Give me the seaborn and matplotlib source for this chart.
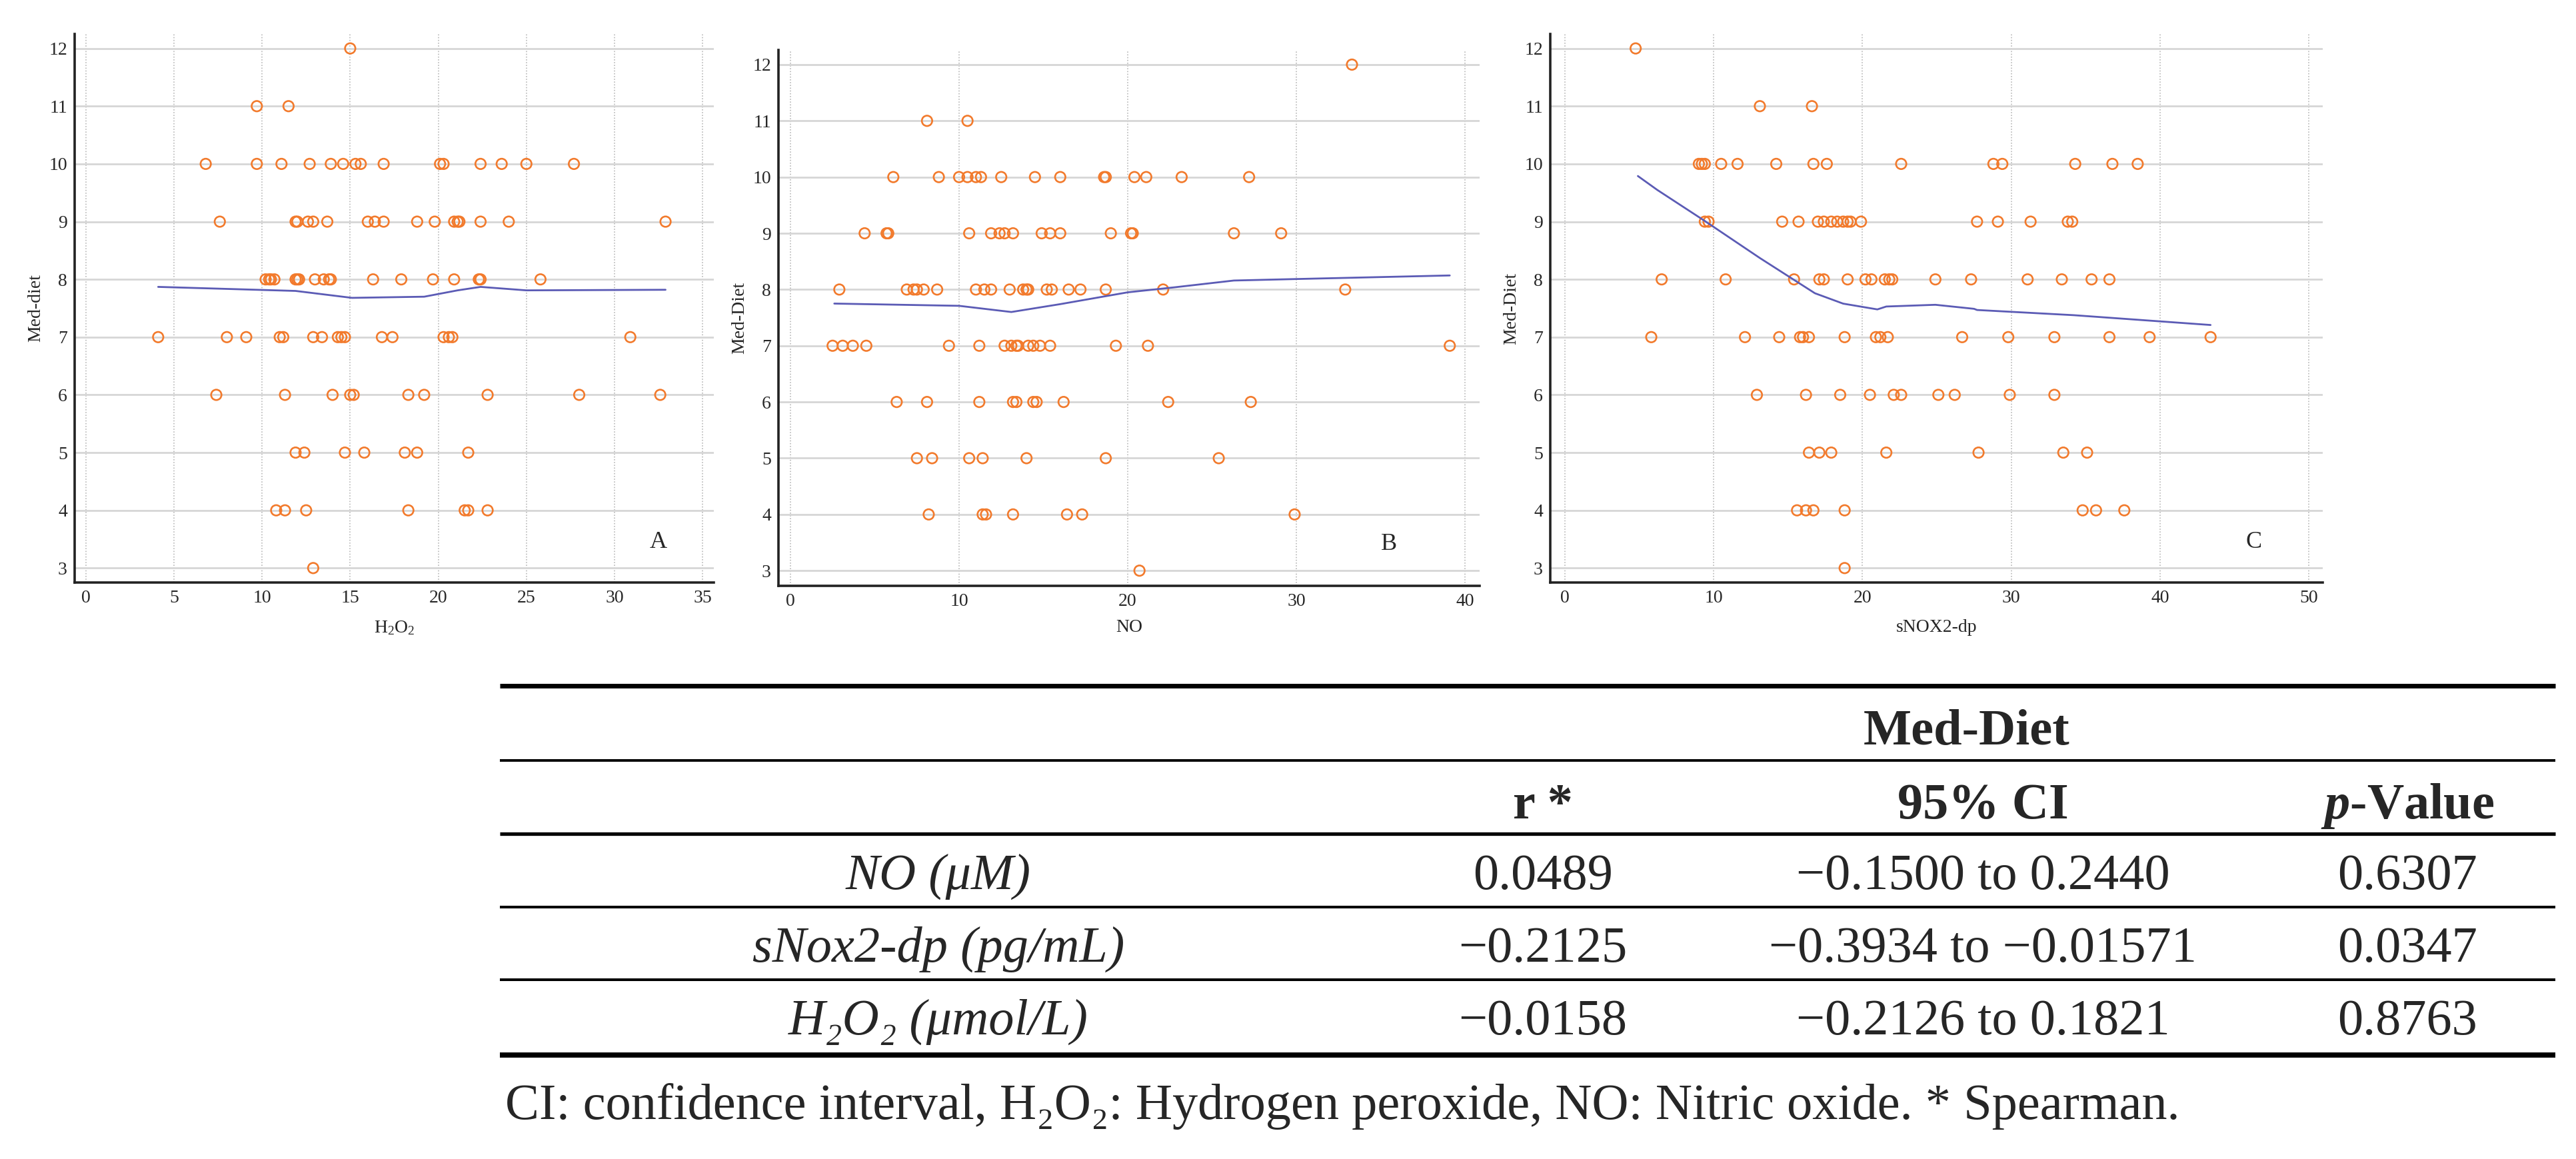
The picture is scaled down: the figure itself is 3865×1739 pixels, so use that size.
import matplotlib
matplotlib.use("Agg")
import matplotlib.pyplot as plt
from matplotlib.ticker import MultipleLocator
import seaborn as sns
import pandas as pd

# ---- panel A : H2O2 vs Med-diet score (x values per score level) ----
h2o2_pts = {
    12: [15.0],
    11: [9.7, 11.5],
    10: [6.8, 9.7, 11.1, 12.7, 13.9, 14.6, 15.3, 15.6, 16.9, 20.1, 20.3, 22.4, 23.6, 25.0, 27.7],
    9: [7.6, 11.9, 12.0, 12.6, 12.9, 13.7, 16.0, 16.4, 16.9, 18.8, 19.8, 20.9, 21.1, 21.2, 22.4, 24.0, 32.9],
    8: [10.2, 10.4, 10.5, 10.7, 11.9, 12.0, 12.1, 13.0, 13.5, 13.8, 13.9, 16.3, 17.9, 19.7, 20.9, 22.3, 22.4, 25.8],
    7: [4.1, 8.0, 9.1, 11.0, 11.2, 12.9, 13.4, 14.3, 14.5, 14.7, 16.8, 17.4, 20.3, 20.6, 20.8, 30.9],
    6: [7.4, 11.3, 14.0, 15.0, 15.2, 18.3, 19.2, 22.8, 28.0, 32.6],
    5: [11.9, 12.4, 14.7, 15.8, 18.1, 18.8, 21.7],
    4: [10.8, 11.3, 12.5, 18.3, 21.5, 21.7, 22.8],
    3: [12.9],
}
h2o2_fit_x = [4.1, 11.9, 15.1, 19.2, 21.1, 22.4, 25.0, 32.9]
h2o2_fit_y = [7.87, 7.80, 7.68, 7.70, 7.81, 7.87, 7.81, 7.82]

# ---- panel B : NO ----
no_pts = {
    12: [33.3],
    11: [8.1, 10.5],
    10: [6.1, 8.8, 10.0, 10.5, 11.0, 11.3, 12.5, 14.5, 16.0, 18.6, 18.7, 20.4, 21.1, 23.2, 27.2],
    9: [4.4, 5.7, 5.8, 10.6, 11.9, 12.4, 12.7, 13.2, 14.9, 15.4, 16.0, 19.0, 20.2, 20.3, 26.3, 29.1],
    8: [2.9, 6.9, 7.3, 7.5, 7.9, 8.7, 11.0, 11.5, 11.9, 13.0, 13.8, 14.0, 14.1, 15.2, 15.5, 16.5, 17.2, 18.7, 22.1, 32.9],
    7: [2.5, 3.1, 3.7, 4.5, 9.4, 11.2, 12.7, 13.1, 13.4, 13.5, 14.1, 14.4, 14.8, 15.4, 19.3, 21.2, 39.1],
    6: [6.3, 8.1, 11.2, 13.2, 13.4, 14.4, 14.6, 16.2, 22.4, 27.3],
    5: [7.5, 8.4, 10.6, 11.4, 14.0, 18.7, 25.4],
    4: [8.2, 11.4, 11.6, 13.2, 16.4, 17.3, 29.9],
    3: [20.7],
}
no_fit_x = [2.6, 10.0, 13.1, 16.0, 20.0, 22.8, 26.3, 30.5, 39.1]
no_fit_y = [7.75, 7.71, 7.60, 7.74, 7.95, 8.04, 8.16, 8.19, 8.25]

# ---- panel C : sNOX2-dp ----
nox_pts = {
    12: [4.75],
    11: [13.1, 16.6],
    10: [9.0, 9.2, 9.4, 10.5, 11.6, 14.2, 16.7, 17.6, 22.6, 28.8, 29.4, 34.3, 36.8, 38.5],
    9: [9.4, 9.65, 14.6, 15.7, 17.0, 17.4, 17.9, 18.3, 18.7, 19.0, 19.2, 19.9, 27.7, 29.1, 31.3, 33.8, 34.1],
    8: [6.5, 10.8, 15.4, 17.1, 17.4, 19.0, 20.2, 20.6, 21.5, 21.8, 22.0, 24.9, 27.3, 31.1, 33.4, 35.4, 36.6],
    7: [5.8, 12.1, 14.4, 15.8, 16.0, 16.4, 18.8, 20.9, 21.2, 21.7, 26.7, 29.8, 32.9, 36.6, 39.3, 43.4],
    6: [12.9, 16.2, 18.5, 20.5, 22.1, 22.6, 25.1, 26.2, 29.9, 32.9],
    5: [16.4, 17.1, 17.9, 21.6, 27.8, 33.5, 35.1],
    4: [15.6, 16.2, 16.7, 18.8, 34.8, 35.7, 37.6],
    3: [18.8],
}
nox_fit_x = [4.9, 6.2, 9.35, 13.1, 16.8, 18.7, 21.0, 21.6, 24.9, 27.5, 27.7, 34.2, 43.4]
nox_fit_y = [9.79, 9.55, 9.02, 8.37, 7.76, 7.58, 7.48, 7.53, 7.56, 7.49, 7.47, 7.38, 7.21]

# ---- table ----
col_headers = ["r *", "95% CI", "$p$-Value"]
row_labels = ["NO (μM)", "sNox2-dp (pg/mL)", "H₂O₂ (μmol/L)"]
r_values = ["0.0489", "−0.2125", "−0.0158"]
ci_values = ["−0.1500 to 0.2440", "−0.3934 to −0.01571", "−0.2126 to 0.1821"]
p_values = ["0.6307", "0.0347", "0.8763"]
caption = "CI: confidence interval, H₂O₂: Hydrogen peroxide, NO: Nitric oxide. * Spearman."


def to_frame(pts):
    rows = [(x, y) for y, xs in pts.items() for x in xs]
    return pd.DataFrame(rows, columns=["x", "score"])


sns.set_style("white")
plt.rcParams["font.family"] = ["Liberation Serif", "DejaVu Serif"]
plt.rcParams["mathtext.fontset"] = "custom"
plt.rcParams["mathtext.rm"] = "Liberation Serif"
plt.rcParams["mathtext.it"] = "Liberation Serif:italic:bold"
plt.rcParams["mathtext.bf"] = "Liberation Serif:bold"

ORANGE = "#f27a2c"
BLUE = "#5b5bb5"
W, H = 3866, 1739

fig = plt.figure(figsize=(W / 100, H / 100), dpi=100)

panels = [
    dict(pts=h2o2_pts, fx=h2o2_fit_x, fy=h2o2_fit_y, xlabel=r"H$_2$O$_2$", ylabel="Med-diet",
         px=(112, 1071, 51, 874), xlim=(-0.64, 35.64), ylim=(2.75, 12.25), major=5, minor=None,
         letter="A", lpos=(32.5, 3.45)),
    dict(pts=no_pts, fx=no_fit_x, fy=no_fit_y, xlabel="NO", ylabel="Med-Diet",
         px=(1168, 2220, 75, 879), xlim=(-0.71, 40.87), ylim=(2.73, 12.26), major=10, minor=5,
         letter="B", lpos=(35.5, 3.47)),
    dict(pts=nox_pts, fx=nox_fit_x, fy=nox_fit_y, xlabel="sNOX2-dp", ylabel="Med-Diet",
         px=(2326, 3485, 51, 874), xlim=(-0.99, 50.94), ylim=(2.75, 12.25), major=10, minor=5,
         letter="C", lpos=(46.3, 3.45)),
]

for p in panels:
    l, r, t, b = p["px"]
    ax = fig.add_axes([l / W, 1 - b / H, (r - l) / W, (b - t) / H])
    df = to_frame(p["pts"])
    sns.scatterplot(data=df, x="x", y="score", ax=ax, marker="o", s=125,
                    color="none", edgecolor=ORANGE, linewidth=1.9, zorder=3)
    sns.lineplot(x=p["fx"], y=p["fy"], ax=ax, color=BLUE, lw=2.0, estimator=None, zorder=4)
    ax.set_xlim(*p["xlim"])
    ax.set_ylim(*p["ylim"])
    ax.xaxis.set_major_locator(MultipleLocator(p["major"]))
    if p["minor"]:
        ax.xaxis.set_minor_locator(MultipleLocator(p["minor"]))
    ax.yaxis.set_major_locator(MultipleLocator(1))
    ax.yaxis.set_minor_locator(MultipleLocator(0.5))
    ax.grid(axis="x", which="major", color="#b8b8b8", linestyle=(0, (1, 1.5)), lw=1.2)
    ax.grid(axis="y", which="major", color="#d6d6d6", linestyle="-", lw=2.0)
    ax.set_axisbelow(True)
    for s in ["top", "right"]:
        ax.spines[s].set_visible(False)
    for s in ["left", "bottom"]:
        ax.spines[s].set_linewidth(2.6)
        ax.spines[s].set_color("#222222")
    ax.tick_params(which="major", direction="in", length=13, width=2.2, labelsize=20,
                   color="#222222", pad=8)
    ax.tick_params(which="minor", direction="in", length=6, width=1.8, color="#222222")
    ax.set_xlabel(p["xlabel"], fontsize=20)
    ax.set_ylabel(p["ylabel"], fontsize=20)
    ax.xaxis.set_label_coords(0.5, -(929 - b) / (b - t))
    ax.yaxis.set_label_coords(-46 / (r - l), 0.5)
    ax.text(p["lpos"][0], p["lpos"][1], p["letter"], fontsize=26, ha="center", va="center",
            zorder=5)

# ---- table drawn on a figure-wide overlay (pixel coordinates) ----
tx = fig.add_axes([0, 0, 1, 1], zorder=-1)
tx.set_xlim(0, W)
tx.set_ylim(H, 0)
tx.axis("off")

x0, x1 = 750, 3834
for y, lw in [(1029, 5.0), (1141, 2.8), (1251, 3.8), (1361, 2.9), (1470, 2.9), (1583, 5.6)]:
    tx.hlines(y, x0, x1, color="black", lw=lw)

FS = 55
col_x = [2315, 2975, 3612]
row_base = [1334, 1443, 1552]
tx.text(2951, 1117, "Med-Diet", fontsize=FS, weight="bold", ha="center", va="baseline")
for cx, h in zip(col_x, col_headers):
    tx.text(cx, 1228, h, fontsize=FS, weight="bold", ha="center", va="baseline")
for ry, lab, rv, ci, pv in zip(row_base, row_labels, r_values, ci_values, p_values):
    tx.text(1408, ry, lab, fontsize=FS, style="italic", ha="center", va="baseline",
            family=["Liberation Serif", "DejaVu Serif"])
    tx.text(col_x[0], ry, rv, fontsize=FS, ha="center", va="baseline")
    tx.text(col_x[1], ry, ci, fontsize=FS, ha="center", va="baseline")
    tx.text(col_x[2], ry, pv, fontsize=FS, ha="center", va="baseline")
tx.text(x0 + 8, 1679, caption, fontsize=FS, ha="left", va="baseline",
        family=["Liberation Serif", "DejaVu Serif"])

fig.savefig("out.png", dpi=100, facecolor="white")
